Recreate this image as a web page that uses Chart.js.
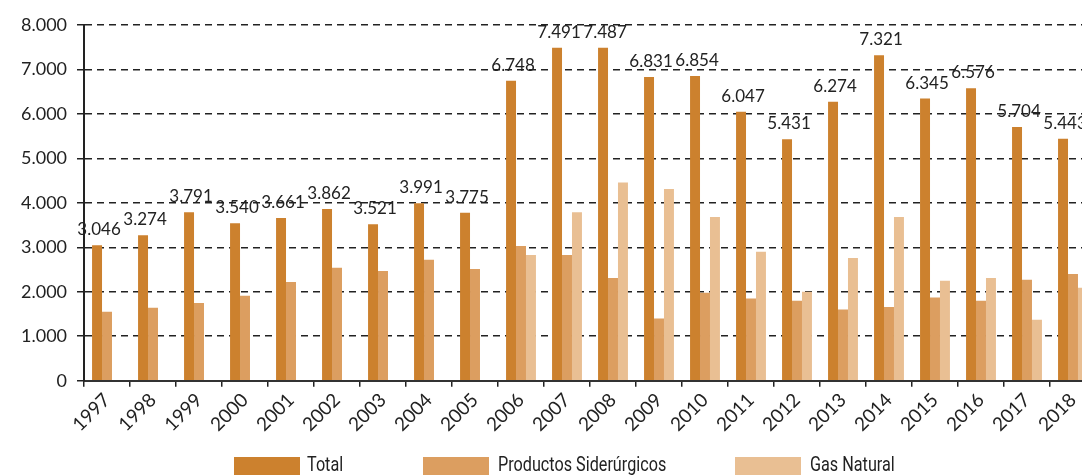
<!DOCTYPE html>
<html>
<head>
<meta charset="utf-8">
<script src="https://cdn.jsdelivr.net/npm/chart.js@4/dist/chart.umd.min.js"></script>
<style>
  html, body { margin: 0; padding: 0; background: #fff; overflow: hidden; }
  #wrap { position: relative; width: 1100px; height: 475px; }
  #legend { position: absolute; left: 0; top: 457px; font-family: Roboto, sans-serif; font-size: 20px; color: #222; }
  #legend span.box { position: absolute; width: 66px; height: 18px; }
  #legend span.txt { position: absolute; top: -3px; white-space: nowrap; line-height: 20px; transform: scaleX(0.81); transform-origin: left center; }
</style>
</head>
<body>
<div id="wrap">
  <canvas id="chart"></canvas>
  <div id="legend">
    <span class="box" style="left:234px;background:#cc812e"></span><span class="txt" style="left:307px">Total</span>
    <span class="box" style="left:423px;background:#dc9e60"></span><span class="txt" style="left:498px">Productos Siderúrgicos</span>
    <span class="box" style="left:735px;background:#e9bf93"></span><span class="txt" style="left:810px">Gas Natural</span>
  </div>
</div>
<script>
var years = ['1997', '1998', '1999', '2000', '2001', '2002', '2003', '2004', '2005', '2006', '2007',
             '2008', '2009', '2010', '2011', '2012', '2013', '2014', '2015', '2016', '2017', '2018'];
var total = [3046, 3274, 3791, 3540, 3661, 3862, 3521, 3991, 3775, 6748, 7491,
             7487, 6831, 6854, 6047, 5431, 6274, 7321, 6345, 6576, 5704, 5443];
var siderurgicos = [1550, 1640, 1750, 1910, 2220, 2540, 2470, 2720, 2510, 3030, 2830,
                    2310, 1400, 1980, 1850, 1800, 1600, 1660, 1870, 1800, 2270, 2400];
var gasNatural = [null, null, null, null, null, null, null, null, null, 2830, 3790,
                  4460, 4310, 3680, 2900, 2000, 2760, 3680, 2250, 2310, 1370, 2090];
var yTicks = [0, 1000, 2000, 3000, 4000, 5000, 6000, 7000, 8000];

function miles(v) {
    return String(v).replace(/\B(?=(\d{3})+(?!\d))/g, '.');
}

var valueLabels = {
    id: 'valueLabels',
    afterDatasetsDraw: function (chart) {
        var ctx = chart.ctx;
        var meta = chart.getDatasetMeta(0);
        ctx.save();
        ctx.font = '17px Lato';
        ctx.fillStyle = '#222';
        ctx.textAlign = 'center';
        ctx.textBaseline = 'bottom';
        meta.data.forEach(function (bar, i) {
            ctx.fillText(miles(total[i]), bar.x + 2, bar.y - 7);
        });
        ctx.restore();
    }
};

var ctx = document.getElementById('chart').getContext('2d');
var chart = new Chart(ctx, {
    type: 'bar',
    data: {
        labels: years,
        datasets: [
            { label: 'Total', data: total, backgroundColor: '#cc812e' },
            { label: 'Productos Siderúrgicos', data: siderurgicos, backgroundColor: '#dc9e60' },
            { label: 'Gas Natural', data: gasNatural, backgroundColor: '#e9bf93' }
        ]
    },
    options: {
        responsive: true,
        maintainAspectRatio: false,
        animation: false,
        categoryPercentage: 0.65,
        barPercentage: 1,
        layout: { padding: { left: 11, top: 25, right: 4, bottom: 37 } },
        plugins: {
            legend: { display: false },
            tooltip: { enabled: false }
        },
        scales: {
            x: {
                grid: { drawOnChartArea: false, offset: true, tickLength: 6, color: '#222', lineWidth: 1.5 },
                border: { display: true, color: '#333', width: 2 },
                ticks: {
                    maxRotation: 45, minRotation: 45, padding: 2,
                    color: '#222', font: { family: 'Lato', size: 19 }
                }
            },
            y: {
                min: 0, max: 8000,
                afterBuildTicks: function (axis) {
                    axis.ticks = yTicks.map(function (v) { return { value: v }; });
                },
                grid: { color: '#222', lineWidth: 1.5, tickLength: 7 },
                border: { display: true, color: '#222', width: 2, dash: [7, 5] },
                ticks: {
                    padding: 10, color: '#222',
                    font: { family: 'Lato', size: 18 },
                    callback: function (v) { return miles(v); }
                }
            }
        }
    },
    plugins: [valueLabels]
});
</script>
</body>
</html>
